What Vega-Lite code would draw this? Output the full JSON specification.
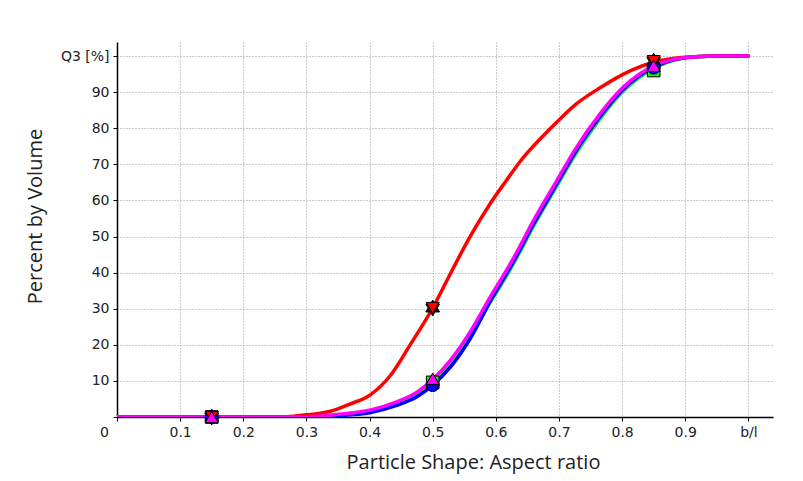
{
  "$schema": "https://vega.github.io/schema/vega-lite/v6.json",
  "width": 656,
  "height": 375,
  "autosize": {"type": "none"},
  "padding": {"left": 117, "top": 42, "right": 30, "bottom": 64},
  "background": "white",
  "config": {
    "view": {"stroke": null}
  },
  "datasets": {
    "curves": [
      {"series": "green", "x": 0, "y": 0},
      {"series": "green", "x": 0.2, "y": 0},
      {"series": "green", "x": 0.3, "y": 0},
      {"series": "green", "x": 0.325, "y": 0.2},
      {"series": "green", "x": 0.338, "y": 0.4},
      {"series": "green", "x": 0.37, "y": 0.9},
      {"series": "green", "x": 0.4, "y": 1.6},
      {"series": "green", "x": 0.443, "y": 3.8},
      {"series": "green", "x": 0.475, "y": 6.3},
      {"series": "green", "x": 0.5, "y": 9.6},
      {"series": "green", "x": 0.528, "y": 14.6},
      {"series": "green", "x": 0.559, "y": 22.2},
      {"series": "green", "x": 0.591, "y": 31.7},
      {"series": "green", "x": 0.623, "y": 40.9},
      {"series": "green", "x": 0.643, "y": 47.3},
      {"series": "green", "x": 0.654, "y": 51.0},
      {"series": "green", "x": 0.681, "y": 59.3},
      {"series": "green", "x": 0.7, "y": 65.0},
      {"series": "green", "x": 0.723, "y": 71.9},
      {"series": "green", "x": 0.765, "y": 82.6},
      {"series": "green", "x": 0.802, "y": 90.3},
      {"series": "green", "x": 0.85, "y": 96.6},
      {"series": "green", "x": 0.875, "y": 98.5},
      {"series": "green", "x": 0.9, "y": 99.5},
      {"series": "green", "x": 0.925, "y": 99.9},
      {"series": "green", "x": 0.95, "y": 100},
      {"series": "green", "x": 1.0, "y": 100},
      {"series": "blue", "x": 0, "y": 0},
      {"series": "blue", "x": 0.2, "y": 0},
      {"series": "blue", "x": 0.3, "y": 0},
      {"series": "blue", "x": 0.325, "y": 0.1},
      {"series": "blue", "x": 0.338, "y": 0.2},
      {"series": "blue", "x": 0.37, "y": 0.6},
      {"series": "blue", "x": 0.4, "y": 1.2},
      {"series": "blue", "x": 0.443, "y": 3.2},
      {"series": "blue", "x": 0.475, "y": 5.6},
      {"series": "blue", "x": 0.5, "y": 8.8},
      {"series": "blue", "x": 0.528, "y": 13.8},
      {"series": "blue", "x": 0.559, "y": 21.6},
      {"series": "blue", "x": 0.591, "y": 32.0},
      {"series": "blue", "x": 0.623, "y": 41.5},
      {"series": "blue", "x": 0.643, "y": 47.9},
      {"series": "blue", "x": 0.654, "y": 51.6},
      {"series": "blue", "x": 0.681, "y": 59.9},
      {"series": "blue", "x": 0.7, "y": 65.6},
      {"series": "blue", "x": 0.723, "y": 72.6},
      {"series": "blue", "x": 0.765, "y": 83.2},
      {"series": "blue", "x": 0.802, "y": 90.8},
      {"series": "blue", "x": 0.85, "y": 96.9},
      {"series": "blue", "x": 0.875, "y": 98.6},
      {"series": "blue", "x": 0.9, "y": 99.5},
      {"series": "blue", "x": 0.925, "y": 99.9},
      {"series": "blue", "x": 0.95, "y": 100},
      {"series": "blue", "x": 1.0, "y": 100},
      {"series": "red", "x": 0, "y": 0},
      {"series": "red", "x": 0.2, "y": 0},
      {"series": "red", "x": 0.26, "y": 0},
      {"series": "red", "x": 0.28, "y": 0.2},
      {"series": "red", "x": 0.3, "y": 0.6},
      {"series": "red", "x": 0.32, "y": 1.0},
      {"series": "red", "x": 0.338, "y": 1.6},
      {"series": "red", "x": 0.369, "y": 3.6},
      {"series": "red", "x": 0.4, "y": 6.0},
      {"series": "red", "x": 0.433, "y": 11.5},
      {"series": "red", "x": 0.464, "y": 19.9},
      {"series": "red", "x": 0.5, "y": 30.2},
      {"series": "red", "x": 0.528, "y": 39.7},
      {"series": "red", "x": 0.559, "y": 49.9},
      {"series": "red", "x": 0.591, "y": 59.1},
      {"series": "red", "x": 0.617, "y": 65.6},
      {"series": "red", "x": 0.6385, "y": 70.8},
      {"series": "red", "x": 0.6755, "y": 78},
      {"series": "red", "x": 0.7, "y": 82.3},
      {"series": "red", "x": 0.728, "y": 86.8},
      {"series": "red", "x": 0.765, "y": 91.2},
      {"series": "red", "x": 0.8, "y": 94.8},
      {"series": "red", "x": 0.818, "y": 96.3},
      {"series": "red", "x": 0.85, "y": 98.3},
      {"series": "red", "x": 0.875, "y": 99.2},
      {"series": "red", "x": 0.9, "y": 99.7},
      {"series": "red", "x": 0.925, "y": 99.9},
      {"series": "red", "x": 0.95, "y": 100},
      {"series": "red", "x": 1.0, "y": 100},
      {"series": "magenta", "x": 0, "y": 0},
      {"series": "magenta", "x": 0.2, "y": 0},
      {"series": "magenta", "x": 0.3, "y": 0},
      {"series": "magenta", "x": 0.325, "y": 0.3},
      {"series": "magenta", "x": 0.338, "y": 0.5},
      {"series": "magenta", "x": 0.37, "y": 1.1},
      {"series": "magenta", "x": 0.4, "y": 1.9},
      {"series": "magenta", "x": 0.443, "y": 4.2},
      {"series": "magenta", "x": 0.475, "y": 6.9},
      {"series": "magenta", "x": 0.5, "y": 10.4},
      {"series": "magenta", "x": 0.528, "y": 15.7},
      {"series": "magenta", "x": 0.559, "y": 23.5},
      {"series": "magenta", "x": 0.591, "y": 33.2},
      {"series": "magenta", "x": 0.623, "y": 42.5},
      {"series": "magenta", "x": 0.643, "y": 48.9},
      {"series": "magenta", "x": 0.654, "y": 52.6},
      {"series": "magenta", "x": 0.681, "y": 60.9},
      {"series": "magenta", "x": 0.7, "y": 66.5},
      {"series": "magenta", "x": 0.723, "y": 73.4},
      {"series": "magenta", "x": 0.765, "y": 84.0},
      {"series": "magenta", "x": 0.802, "y": 91.4},
      {"series": "magenta", "x": 0.85, "y": 97.3},
      {"series": "magenta", "x": 0.875, "y": 98.8},
      {"series": "magenta", "x": 0.9, "y": 99.6},
      {"series": "magenta", "x": 0.925, "y": 99.9},
      {"series": "magenta", "x": 0.95, "y": 100},
      {"series": "magenta", "x": 1.0, "y": 100}
    ],
    "markers": [
      {"series": "green", "x": 0.15, "y": 0},
      {"series": "blue", "x": 0.15, "y": 0},
      {"series": "red", "x": 0.15, "y": 0},
      {"series": "magenta", "x": 0.15, "y": 0},
      {"series": "green", "x": 0.5, "y": 9.6},
      {"series": "blue", "x": 0.5, "y": 8.8},
      {"series": "red", "x": 0.5, "y": 30.2},
      {"series": "magenta", "x": 0.5, "y": 10.6},
      {"series": "green", "x": 0.85, "y": 96},
      {"series": "blue", "x": 0.85, "y": 96.8},
      {"series": "red", "x": 0.85, "y": 98.6},
      {"series": "magenta", "x": 0.85, "y": 97.3}
    ]
  },
  "encoding": {
    "x": {
      "field": "x",
      "type": "quantitative",
      "scale": {"domain": [0, 1.039], "nice": false, "zero": false},
      "axis": {
        "title": "Particle Shape: Aspect ratio",
        "values": [0, 0.1, 0.2, 0.3, 0.4, 0.5, 0.6, 0.7, 0.8, 0.9, 1],
        "labelExpr": "datum.value == 1 ? 'b/l' : datum.value == 0 ? '0' : format(datum.value, '.1f')",
        "labelOffset": {"condition": {"test": "datum.value == 0", "value": -13}, "value": 0},
        "labelFont": "DejaVu Sans",
        "labelFontSize": 14,
        "labelColor": "#222",
        "labelOverlap": false,
        "labelFlush": false,
        "tickSize": 4,
        "tickColor": "black",
        "labelPadding": 4,
        "domainColor": "black",
        "domainWidth": 1.5,
        "grid": true,
        "gridColor": "#999999",
        "gridDash": [1, 2],
        "titleFont": "Open Sans",
        "titleFontSize": 20,
        "titleFontWeight": "normal",
        "titleColor": "#222",
        "titleX": 356,
        "titleY": 51,
        "titleBaseline": "alphabetic",
        "titleAnchor": "middle"
      }
    },
    "y": {
      "field": "y",
      "type": "quantitative",
      "scale": {"domain": [0, 103.9], "nice": false, "zero": false},
      "axis": {
        "title": "Percent by Volume",
        "values": [0, 10, 20, 30, 40, 50, 60, 70, 80, 90, 100],
        "labelExpr": "datum.value == 100 ? 'Q3 [%]' : datum.value == 0 ? '' : datum.label",
        "labelFont": "DejaVu Sans",
        "labelFontSize": 14,
        "labelColor": "#222",
        "labelOverlap": false,
        "labelFlush": false,
        "tickSize": 4,
        "tickColor": "black",
        "labelPadding": 4,
        "domainColor": "black",
        "domainWidth": 1.5,
        "grid": true,
        "gridColor": "#999999",
        "gridDash": [1, 2],
        "titleFont": "Open Sans",
        "titleFontSize": 20,
        "titleFontWeight": "normal",
        "titleColor": "#222",
        "titleX": -76,
        "titleY": 174,
        "titleBaseline": "alphabetic",
        "titleAnchor": "middle"
      }
    }
  },
  "layer": [
    {
      "data": {"name": "curves"},
      "mark": {"type": "line", "interpolate": "monotone", "strokeCap": "round", "strokeJoin": "round", "clip": true},
      "encoding": {
        "color": {
          "field": "series",
          "type": "nominal",
          "scale": {"domain": ["green", "blue", "red", "magenta"], "range": ["#1ee61e", "#0000ff", "#ff0000", "#ff00ff"]},
          "legend": null
        },
        "strokeWidth": {
          "field": "series",
          "type": "ordinal",
          "scale": {"domain": ["green", "blue", "red", "magenta"], "range": [3.5, 3.5, 4.5, 3]},
          "legend": null
        },
        "order": {"field": "x", "type": "quantitative"}
      }
    },
    {
      "data": {"name": "markers"},
      "transform": [{"filter": "datum.series == 'red'"}],
      "mark": {
        "type": "point",
        "filled": true,
        "opacity": 1,
        "fill": "#3a0a0a",
        "stroke": "black",
        "strokeWidth": 1,
        "size": 250,
        "shape": "M0,-1L0.289,-0.5L0.866,-0.5L0.577,0L0.866,0.5L0.289,0.5L0,1L-0.289,0.5L-0.866,0.5L-0.577,0L-0.866,-0.5L-0.289,-0.5Z"
      },
      "encoding": {}
    },
    {
      "data": {"name": "markers"},
      "mark": {"type": "point", "filled": true, "opacity": 1, "stroke": "black", "strokeWidth": 1},
      "encoding": {
        "fill": {
          "field": "series",
          "type": "nominal",
          "scale": {"domain": ["green", "blue", "red", "magenta"], "range": ["#1ee61e", "#0000ff", "#ff0000", "#ff00ff"]},
          "legend": null
        },
        "shape": {
          "field": "series",
          "type": "nominal",
          "scale": {
            "domain": ["green", "blue", "red", "magenta"],
            "range": ["square", "circle", "triangle-down", "triangle-up"]
          },
          "legend": null
        },
        "size": {
          "field": "series",
          "type": "ordinal",
          "scale": {"domain": ["green", "blue", "red", "magenta"], "range": [160, 170, 240, 260]},
          "legend": null
        }
      }
    }
  ]
}
